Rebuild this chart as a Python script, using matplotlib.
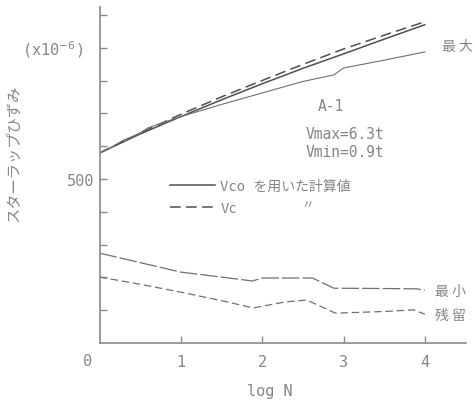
import matplotlib
matplotlib.use("Agg")
import matplotlib.pyplot as plt

# ---- data -------------------------------------------------------------
# calculated stirrup strain (x1e-6) vs log N
calc_logn = [0, 0.5, 1.0, 1.5, 2.0, 2.5, 3.0, 3.5, 4.0]
vco_strain = [579, 637, 690, 741, 790, 837, 881, 926, 970]
vc_strain = [579, 640, 697, 750, 800, 849, 896, 938, 979]

# measured maximum strain
max_logn = [0, 0.15, 0.3, 0.45, 0.6, 0.75, 1.0, 1.5, 2.0, 2.5, 2.88, 3.0, 3.5, 4.0]
max_strain = [579, 597, 619, 633, 656, 669, 690, 727, 762, 797, 817, 838, 862, 887]

# measured minimum strain
min_logn = [0, 0.5, 1.0, 1.5, 1.88, 2.0, 2.3, 2.62, 2.88, 3.5, 3.9, 4.0]
min_strain = [274, 245, 216, 201, 189, 198, 198, 198, 167, 166, 165, 161]

# residual strain
res_logn = [0, 0.5, 1.0, 1.5, 1.89, 2.28, 2.55, 2.9, 3.5, 3.86, 4.0]
res_strain = [201, 179, 155, 129, 107, 125, 131, 91, 96, 101, 88]

x_ticks = [1, 2, 3, 4]
y_ticks = [100, 200, 300, 400, 500, 600, 700, 800, 900, 1000]

# ---- style ------------------------------------------------------------
LINE = "#505050"
THIN = "#707070"
TXT = "#858585"
MONO = ["DejaVu Sans Mono", "Noto Sans CJK JP"]
JP = ["Noto Sans CJK JP", "DejaVu Sans"]

fig = plt.figure(figsize=(4.75, 4.06), dpi=100)
ax = fig.add_axes([99.5 / 475, 62 / 406, 366 / 475, 336 / 406])
ax.set_xlim(0, 4.5)
ax.set_ylim(0, 1024)

for s in ("top", "right"):
    ax.spines[s].set_visible(False)
for s in ("left", "bottom"):
    ax.spines[s].set_color("#8a8a8a")
    ax.spines[s].set_linewidth(1.2)

ax.plot(calc_logn, vco_strain, color=LINE, lw=1.1, label="Vco を用いた計算値")
ax.plot(calc_logn, vc_strain, color=LINE, lw=1.1, dashes=(7, 3.5), label="Vc")
ax.plot(max_logn, max_strain, color=THIN, lw=0.8)
ax.plot(min_logn, min_strain, color=THIN, lw=0.9, dashes=(14, 2.5))
ax.plot(res_logn, res_strain, color=THIN, lw=0.9, dashes=(6, 3))

# axes ticks
ax.set_xticks(x_ticks)
ax.set_xticklabels([str(t) for t in x_ticks])
ax.set_yticks(y_ticks)
ax.set_yticklabels(["500" if t == 500 else "" for t in y_ticks])
ax.tick_params(axis="both", direction="in", length=5, width=1.0,
               color="#8a8a8a", labelcolor=TXT, labelsize=11)
ax.tick_params(axis="x", pad=8)
ax.tick_params(axis="y", pad=4)
for lab in ax.get_xticklabels() + ax.get_yticklabels():
    lab.set_family(MONO)

ax.text(-0.15, -53, "0", ha="center", va="center", color=TXT,
        fontsize=11, family=MONO, clip_on=False)
ax.text(2.10, -146, "log N", ha="center", va="center", color=TXT,
        fontsize=11, family=MONO, clip_on=False)
ax.text(-0.573, 896, r"(x10$^{-6}$)", ha="center", va="center", color=TXT,
        fontsize=11, family=MONO, clip_on=False)
ax.set_ylabel("スターラップひずみ", family=JP, fontsize=11, color=TXT)
ax.yaxis.set_label_coords(-0.212, 0.568)

# annotations
ax.text(4.40, 905, "最 大", ha="center", va="center", color=TXT,
        fontsize=10, family=JP, clip_on=False)
ax.text(4.32, 159, "最 小", ha="center", va="center", color=TXT,
        fontsize=10, family=JP, clip_on=False)
ax.text(4.32, 85, "残 留", ha="center", va="center", color=TXT,
        fontsize=10, family=JP, clip_on=False)
ax.text(2.84, 723, "A-1", ha="center", va="center", color=TXT,
        fontsize=10.5, family=MONO)
ax.text(2.53, 637, "Vmax=6.3t", ha="left", va="center", color=TXT,
        fontsize=10.5, family=MONO)
ax.text(2.53, 585, "Vmin=0.9t", ha="left", va="center", color=TXT,
        fontsize=10.5, family=MONO)

leg = ax.legend(loc="upper left", bbox_to_anchor=(0.193, 0.488),
                frameon=False, borderpad=0, borderaxespad=0,
                handlelength=3.2, handletextpad=0.4, labelspacing=0.55,
                prop={"family": MONO, "size": 10})
for t in leg.get_texts():
    t.set_color(TXT)
ax.text(2.56, 420, "〃", ha="center", va="center", color=TXT,
        fontsize=9, family=JP)

fig.savefig("out.png", dpi=100, facecolor="white")
